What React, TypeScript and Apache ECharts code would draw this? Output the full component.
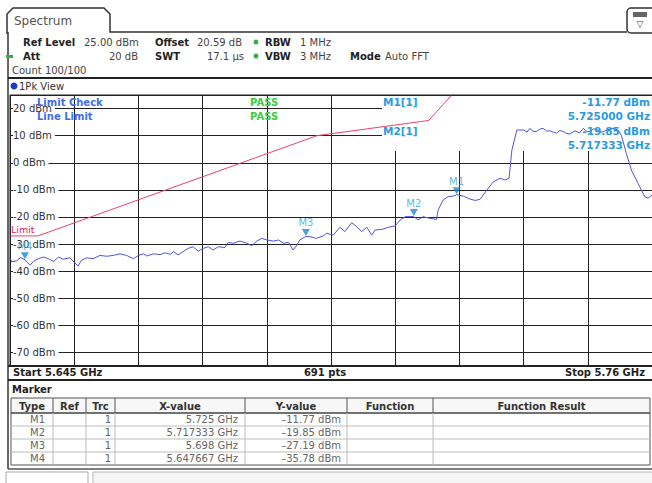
import React, { useEffect, useRef } from "react";
import * as echarts from "echarts";

// ---- data ----
const startGHz = 5.645;
const stopGHz = 5.76;
const refLevelDbm = 25;
const bottomDbm = -75;
const sweepPoints = 691;

const traceFreqGHz = [
  5.645, 5.6453, 5.6462, 5.6469, 5.6477, 5.648, 5.6486, 5.6492, 5.6501, 5.651,
  5.6519, 5.6528, 5.6537, 5.6545, 5.6557, 5.6566, 5.6572, 5.6578, 5.6587, 5.6599,
  5.6611, 5.6623, 5.6635, 5.6647, 5.6659, 5.6671, 5.668, 5.6689, 5.6695, 5.6707,
  5.6719, 5.6728, 5.6737, 5.6743, 5.6751, 5.676, 5.6769, 5.6778, 5.6787, 5.6796,
  5.6805, 5.6814, 5.6823, 5.6835, 5.6841, 5.685, 5.6862, 5.6874, 5.6883, 5.6892,
  5.6901, 5.691, 5.6922, 5.6931, 5.694, 5.6949, 5.6957, 5.6964, 5.6969, 5.698,
  5.6987, 5.6999, 5.7011, 5.7017, 5.7029, 5.7041, 5.705, 5.7062, 5.7071, 5.708,
  5.7089, 5.7098, 5.7104, 5.7116, 5.7128, 5.714, 5.7149, 5.7158, 5.7173, 5.7181,
  5.719, 5.7202, 5.7214, 5.7217, 5.7226, 5.7235, 5.7244, 5.725, 5.7262, 5.7274,
  5.7283, 5.7292, 5.7304, 5.7316, 5.7328, 5.7337, 5.7344, 5.7349, 5.7358, 5.737,
  5.7376, 5.7381, 5.7387, 5.7393, 5.7399, 5.7405, 5.7411, 5.7417, 5.7423, 5.7429,
  5.7435, 5.7441, 5.7447, 5.7453, 5.7462, 5.747, 5.7477, 5.7483, 5.7489, 5.7495,
  5.7501, 5.7507, 5.7513, 5.7521, 5.753, 5.7539, 5.7545, 5.7554, 5.7563, 5.7575,
  5.7587, 5.7593, 5.76,
];
const traceDbm = [
  -35.1, -36.6, -36.2, -35.0, -35.8, -36.6, -37.8, -36.4, -35.4, -34.8,
  -35.4, -36.4, -34.8, -35.6, -35.1, -36.9, -38.1, -36.0, -35.1, -35.4,
  -34.2, -34.5, -34.2, -33.6, -34.2, -35.4, -34.2, -33.6, -34.4, -33.6,
  -33.9, -33.2, -33.8, -32.8, -34.0, -32.8, -31.6, -31.0, -32.6, -31.6,
  -31.0, -32.2, -31.0, -31.3, -29.4, -29.7, -28.9, -29.7, -30.6, -28.9,
  -27.9, -28.5, -28.9, -28.5, -29.7, -29.4, -32.2, -30.4, -28.5, -27.2,
  -27.3, -27.9, -27.0, -26.0, -26.7, -23.8, -25.4, -22.1, -23.6, -25.4,
  -23.8, -26.7, -24.8, -24.6, -23.8, -23.3, -21.1, -19.9, -19.85, -21.1,
  -19.9, -20.5, -20.9, -17.4, -13.7, -12.5, -12.3, -11.77, -12.3, -13.4,
  -13.9, -13.5, -10.1, -7.0, -5.7, -6.4, -5.7, 4.7, 12.1, 12.1,
  11.3, 12.7, 11.6, 11.5, 12.4, 12.7, 11.7, 11.8, 11.3, 10.9,
  11.9, 11.5, 10.8, 10.6, 11.8, 11.0, 12.7, 11.6, 11.5, 12.5,
  12.3, 11.2, 11.5, 12.2, 12.7, 12.1, 10.2, 3.5, -2.7, -7.6,
  -12.5, -13.1, -11.9,
];

const limitFreqGHz = [5.645, 5.65, 5.7, 5.72, 5.725];
const limitDbm = [-27, -27, 10, 15.6, 27];

const markerNames = ["M1", "M2", "M3", "M4"];
const markerFreqGHz = [5.725, 5.717333, 5.698, 5.647667];
const markerDbm = [-11.77, -19.85, -27.19, -35.78];

const tableHeaders = ["Type", "Ref", "Trc", "X-value", "Y-value", "Function", "Function Result"];

// ---- layout / style ----
const FONT = '"DejaVu Sans", Verdana, sans-serif';
const f = (size: number, bold = false) => `${bold ? "bold " : ""}${size}px ${FONT}`;
const GRID = { left: 10, top: 95, width: 642, height: 271 };

function txt(x: number, y: number, text: string, opts: any = {}) {
  return {
    type: "text",
    x,
    y,
    z: opts.z ?? 20,
    silent: true,
    style: {
      text,
      font: f(opts.size ?? 10, opts.bold),
      fill: opts.fill ?? "#222",
      align: opts.align ?? "left",
      verticalAlign: "middle",
    },
  };
}
function ln(x1: number, y1: number, x2: number, y2: number, stroke = "#222", w = 1, z = 20) {
  return { type: "line", z, silent: true, shape: { x1, y1, x2, y2 }, style: { stroke, lineWidth: w } };
}

export default function App() {
  const ref = useRef<HTMLDivElement>(null);

  useEffect(() => {
    if (!ref.current) return;
    const chart = echarts.init(ref.current, null, { renderer: "svg" });

    const trace = traceFreqGHz.map((x, i) => [x, traceDbm[i]]);
    const limit = limitFreqGHz.map((x, i) => [x, limitDbm[i]]);
    const markers = markerNames.map((n, i) => ({ name: n, value: [markerFreqGHz[i], markerDbm[i]] }));

    const g: any[] = [];
    // tab & header frame
    g.push({
      type: "polyline", z: 20, silent: true,
      shape: { points: [[7, 34], [7, 14], [13, 8], [104, 8], [110, 14], [110, 32], [627, 32]] },
      style: { stroke: "#333", lineWidth: 1.5, fill: null },
    });
    g.push(txt(14, 21, "Spectrum", { size: 12, fill: "#555" }));
    g.push({ type: "rect", z: 20, silent: true, shape: { x: 627, y: 8, width: 30, height: 25, r: 4 }, style: { stroke: "#333", lineWidth: 1.5, fill: "#fff" } });
    g.push({ type: "rect", z: 21, silent: true, shape: { x: 633, y: 12, width: 14, height: 5 }, style: { fill: "#666" } });
    g.push(txt(640, 24, "▽", { size: 9, fill: "#444", align: "center" }));
    g.push(ln(8, 32, 8, 469, "#333", 1.5));

    // header rows
    g.push(txt(23, 42, "Ref Level", { bold: true }));
    g.push(txt(84, 42, `${refLevelDbm.toFixed(2)} dBm`, { fill: "#444" }));
    g.push(txt(155, 42, "Offset", { bold: true }));
    g.push(txt(197, 42, "20.59 dB", { fill: "#444" }));
    g.push({ type: "circle", z: 20, silent: true, shape: { cx: 256, cy: 42, r: 2.5 }, style: { fill: "#38b04a" } });
    g.push(txt(265, 42, "RBW", { bold: true }));
    g.push(txt(300, 42, "1 MHz", { fill: "#444" }));

    g.push({ type: "rect", z: 20, silent: true, shape: { x: 6, y: 55, width: 7, height: 3 }, style: { fill: "#38b04a" } });
    g.push(txt(23, 56, "Att", { bold: true }));
    g.push(txt(138, 56, "20 dB", { fill: "#444", align: "right" }));
    g.push(txt(155, 56, "SWT", { bold: true }));
    g.push(txt(244, 56, "17.1 µs", { fill: "#444", align: "right" }));
    g.push({ type: "circle", z: 20, silent: true, shape: { cx: 256, cy: 56, r: 2.5 }, style: { fill: "#38b04a" } });
    g.push(txt(265, 56, "VBW", { bold: true }));
    g.push(txt(300, 56, "3 MHz", { fill: "#444" }));
    g.push(txt(350, 56, "Mode", { bold: true }));
    g.push(txt(385, 56, "Auto FFT", { fill: "#444" }));
    g.push(txt(12, 70, "Count 100/100", { fill: "#444" }));

    g.push(ln(8, 78, 652, 78, "#222", 2));
    g.push({ type: "circle", z: 20, silent: true, shape: { cx: 14, cy: 86, r: 3.5 }, style: { fill: "#1c3cc8" } });
    g.push(txt(19, 86, "1Pk View", { fill: "#333" }));

    // plot frame
    g.push({ type: "rect", z: 20, silent: true, shape: { x: 10, y: 95, width: 643, height: 271 }, style: { stroke: "#222", lineWidth: 1, fill: null } });
    g.push(ln(8, 366, 652, 366, "#222", 2));
    // white box behind marker readout (above grid, below traces)
    g.push({ type: "rect", z: 1, silent: true, shape: { x: 382, y: 96, width: 270, height: 55 }, style: { fill: "#fff" } });

    // limit check texts
    g.push(txt(37, 102, "Limit Check", { bold: true, fill: "#3d6ee8" }));
    g.push(txt(37, 116, "Line Limit", { bold: true, fill: "#3d6ee8" }));
    g.push(txt(250, 102, "PASS", { bold: true, fill: "#3ccc3c" }));
    g.push(txt(250, 116, "PASS", { bold: true, fill: "#3ccc3c" }));
    g.push(txt(11, 229, "Limit", { fill: "#e8204f", size: 9.5 }));

    // marker readouts
    g.push(txt(383, 102, "M1[1]", { bold: true, fill: "#2a9be0", size: 10.5 }));
    g.push(txt(650, 102, `${markerDbm[0].toFixed(2)} dBm`, { bold: true, fill: "#2a9be0", align: "right", size: 10.5 }));
    g.push(txt(650, 116, `${markerFreqGHz[0].toFixed(6)} GHz`, { bold: true, fill: "#2a9be0", align: "right", size: 10.5 }));
    g.push(txt(383, 131, "M2[1]", { bold: true, fill: "#2a9be0", size: 10.5 }));
    g.push(txt(650, 131, `${markerDbm[1].toFixed(2)} dBm`, { bold: true, fill: "#2a9be0", align: "right", size: 10.5 }));
    g.push(txt(650, 145, `${markerFreqGHz[1].toFixed(6)} GHz`, { bold: true, fill: "#2a9be0", align: "right", size: 10.5 }));

    // bottom bar
    g.push(txt(13, 372, `Start ${startGHz} GHz`, { bold: true }));
    g.push(txt(325, 372, `${sweepPoints} pts`, { bold: true, align: "center" }));
    g.push(txt(645, 372, `Stop ${stopGHz} GHz`, { bold: true, align: "right" }));
    g.push(ln(8, 380, 652, 380, "#222", 2));

    // marker table
    g.push(txt(12, 389, "Marker", { bold: true }));
    const cols = [11, 53, 86, 115, 245, 347, 433, 650];
    const rowY = [398, 413, 426, 439, 452, 465];
    g.push({ type: "rect", z: 19, silent: true, shape: { x: 11, y: 398, width: 639, height: 15 }, style: { fill: "#f7f7f7" } });
    g.push({ type: "rect", z: 20, silent: true, shape: { x: 11, y: 398, width: 639, height: 67 }, style: { stroke: "#555", lineWidth: 1, fill: null } });
    g.push(ln(11, 413, 650, 413, "#444", 1.5));
    for (let r = 2; r < rowY.length - 1; r++) g.push(ln(11, rowY[r], 650, rowY[r], "#bbb", 1));
    for (let c = 1; c < cols.length - 1; c++) {
      g.push(ln(cols[c], 398, cols[c], 413, "#555", 1));
      g.push(ln(cols[c], 413, cols[c], 465, "#bbb", 1));
    }
    tableHeaders.forEach((h, c) => g.push(txt((cols[c] + cols[c + 1]) / 2, 406, h, { bold: true, fill: "#333", align: "center" })));
    markerNames.forEach((n, i) => {
      const y = (rowY[i + 1] + rowY[i + 2]) / 2;
      g.push(txt(45, y, n, { fill: "#666", align: "right" }));
      g.push(txt(111, y, "1", { fill: "#666", align: "right" }));
      g.push(txt(238, y, `${markerFreqGHz[i]} GHz`, { fill: "#666", align: "right" }));
      g.push(txt(341, y, `${markerDbm[i].toFixed(2).replace("-", "–")} dBm`, { fill: "#666", align: "right" }));
    });
    g.push(ln(8, 469, 652, 469, "#555", 1.5));
    g.push({ type: "rect", z: 20, silent: true, shape: { x: 6, y: 472, width: 82, height: 14 }, style: { stroke: "#aaa", lineWidth: 1, fill: "#fff" } });
    g.push({ type: "rect", z: 20, silent: true, shape: { x: 93, y: 472, width: 562, height: 14 }, style: { stroke: "#bbb", lineWidth: 1, fill: "#f5f5f5" } });

    chart.setOption({
      animation: false,
      backgroundColor: "#fff",
      grid: GRID,
      xAxis: {
        type: "value",
        min: startGHz,
        max: stopGHz,
        interval: (stopGHz - startGHz) / 10,
        axisLine: { show: false },
        axisTick: { show: false },
        axisLabel: { show: false },
        splitLine: { show: true, lineStyle: { color: "#222", width: 1 } },
      },
      yAxis: {
        type: "value",
        min: bottomDbm,
        max: refLevelDbm,
        splitNumber: 10,
        axisLine: { show: false },
        axisTick: { show: false },
        splitLine: { show: true, lineStyle: { color: "#222", width: 1 } },
        axisLabel: {
          inside: true,
          margin: 3,
          showMinLabel: false,
          showMaxLabel: false,
          formatter: "{value} dBm",
          color: "#333",
          fontSize: 10,
          fontFamily: FONT,
          backgroundColor: "#fff",
          padding: [0, 3, 0, 0],
        },
      },
      series: [
        {
          name: "Limit",
          type: "line",
          data: limit,
          symbol: "none",
          z: 3,
          lineStyle: { color: "#f0406a", width: 1 },
        },
        {
          name: "Trace 1",
          type: "line",
          data: trace,
          symbol: "none",
          z: 4,
          lineStyle: { color: "#5252de", width: 1 },
        },
        {
          name: "Markers",
          type: "scatter",
          data: markers,
          symbol: "triangle",
          symbolRotate: 180,
          symbolSize: [8, 7],
          symbolOffset: [0, -4],
          z: 5,
          itemStyle: { color: "#1a8ad8" },
          label: {
            show: true,
            position: "top",
            distance: 1,
            formatter: "{b}",
            color: "#3a9fdc",
            fontSize: 10,
            fontFamily: FONT,
          },
        },
      ],
      graphic: { elements: g },
    });

    return () => chart.dispose();
  }, []);

  return (
    <div
      ref={ref}
      style={{ position: "absolute", left: 0, top: 0, width: 652, height: 483, background: "#fff" }}
    />
  );
}
